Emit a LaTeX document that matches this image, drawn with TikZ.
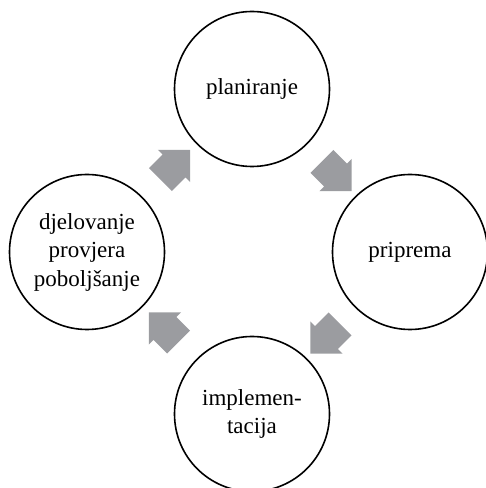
\documentclass[tikz,border=0pt]{standalone}
\usepackage{fontspec}
\setmainfont{Liberation Serif}
\usepackage{tikz}
\usetikzlibrary{calc}
\usetikzlibrary{shapes.arrows}
\definecolor{arrowgray}{RGB}{155,156,160}
\tikzset{
    stage/.style={circle,draw,line width=1.6pt,minimum size=155pt,inner sep=0pt,align=center,font=\fontsize{23}{28.5}\selectfont},
    flow/.style={single arrow,fill=arrowgray,minimum height=42pt,minimum width=45pt,single arrow head extend=6.5pt,single arrow tip angle=90,inner xsep=0pt,inner ysep=16pt}
}

\begin{document}
\begin{tikzpicture}[x=1pt,y=1pt]
    \useasboundingbox (0,0) rectangle (486,488);
    \node[stage] (plan) at (252,399) {planiranje};
    \node[stage] (prep) at (410,236) {priprema};
    \node[stage] (impl) at (252,74) {implemen-\\tacija};
    \node[stage] (act) at (87,236) {djelovanje\\provjera\\poboljšanje};
    \node[flow,rotate=-45] (f1) at ($(plan)!.5!(prep)$) {};
    \node[flow,rotate=-135] (f2) at ($(prep)!.5!(impl)$) {};
    \node[flow,rotate=135] (f3) at ($(impl)!.5!(act)$) {};
    \node[flow,rotate=45] (f4) at ($(act)!.5!(plan)$) {};

\end{tikzpicture}
\end{document}
